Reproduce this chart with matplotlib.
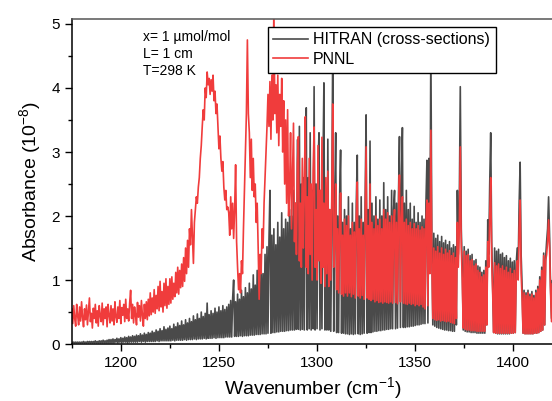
import numpy as np
import matplotlib
matplotlib.use("Agg")
import matplotlib.pyplot as plt

plt.rcParams['font.family'] = ['Liberation Sans', 'DejaVu Sans']
plt.rcParams['mathtext.fontset'] = 'custom'
plt.rcParams['mathtext.rm'] = 'Liberation Sans'
plt.rcParams['mathtext.it'] = 'Liberation Sans:italic'

wavenumber = 1175 + 0.5 * np.arange(500)

# HITRAN cross-sections (absorbance, 1e-8)
hitran = [
    0.03, 0.02, 0.03, 0.02, 0.03, 0.02, 0.03, 0.02, 0.03, 0.02, 0.03, 0.02, 0.04, 0.02, 0.03, 0.02, 0.04, 0.02, 0.04, 0.02,  # 1175
    0.04, 0.02, 0.04, 0.02, 0.05, 0.02, 0.04, 0.02, 0.05, 0.02, 0.05, 0.02, 0.06, 0.02, 0.05, 0.02, 0.06, 0.02, 0.07, 0.02,  # 1185
    0.07, 0.02, 0.08, 0.02, 0.07, 0.03, 0.09, 0.02, 0.08, 0.03, 0.10, 0.02, 0.09, 0.03, 0.11, 0.03, 0.10, 0.02, 0.12, 0.03,  # 1195
    0.11, 0.03, 0.13, 0.03, 0.12, 0.03, 0.14, 0.03, 0.13, 0.04, 0.16, 0.03, 0.14, 0.04, 0.17, 0.03, 0.15, 0.04, 0.18, 0.04,  # 1205
    0.17, 0.04, 0.20, 0.04, 0.18, 0.04, 0.22, 0.05, 0.20, 0.04, 0.24, 0.05, 0.21, 0.05, 0.27, 0.05, 0.23, 0.05, 0.25, 0.05,  # 1215
    0.28, 0.05, 0.24, 0.06, 0.31, 0.05, 0.27, 0.06, 0.33, 0.06, 0.29, 0.06, 0.36, 0.06, 0.30, 0.07, 0.38, 0.06, 0.33, 0.07,  # 1225
    0.40, 0.07, 0.35, 0.07, 0.44, 0.08, 0.38, 0.07, 0.47, 0.08, 0.40, 0.08, 0.50, 0.08, 0.43, 0.09, 0.48, 0.08, 0.64, 0.09,  # 1235
    0.46, 0.09, 0.52, 0.09, 0.48, 0.10, 0.56, 0.09, 0.50, 0.10, 0.58, 0.10, 0.52, 0.10, 0.60, 0.10, 0.54, 0.11, 0.58, 0.11,  # 1245
    0.62, 0.11, 0.68, 0.11, 0.72, 1.00, 0.12, 0.66, 0.12, 0.78, 0.12, 0.70, 0.13, 0.84, 0.12, 0.74, 0.13, 0.88, 0.13, 0.80,  # 1255
    0.13, 0.95, 0.14, 0.86, 0.14, 1.08, 0.14, 0.92, 0.15, 1.15, 0.15, 1.00, 0.15, 1.25, 0.16, 1.10, 0.16, 1.40, 0.16, 1.52,  # 1265
    0.17, 1.60, 2.40, 0.17, 1.70, 0.18, 1.80, 0.18, 1.55, 0.19, 1.90, 0.19, 1.67, 0.20, 2.05, 0.20, 1.80, 0.20, 1.95, 0.21,  # 1275
    1.90, 0.21, 2.10, 0.22, 2.00, 0.22, 2.40, 0.22, 2.20, 0.23, 3.19, 0.23, 3.40, 0.22, 2.50, 0.23, 2.60, 0.22, 2.30, 3.69,  # 1285
    0.22, 2.60, 0.24, 3.30, 0.22, 2.40, 0.24, 4.02, 0.22, 2.50, 0.24, 2.80, 3.30, 0.22, 2.40, 0.24, 2.70, 4.08, 0.22, 2.30,  # 1295
    0.22, 3.20, 0.22, 2.10, 0.20, 2.00, 4.70, 0.20, 2.20, 3.30, 0.18, 2.00, 0.18, 2.30, 3.03, 0.17, 1.90, 0.17, 2.10, 0.16,  # 1305
    2.00, 0.16, 2.30, 0.15, 1.80, 0.16, 2.20, 0.15, 1.90, 0.16, 2.20, 2.95, 0.16, 2.00, 0.15, 2.30, 0.16, 1.90, 0.17, 2.20,  # 1315
    3.58, 0.17, 2.10, 0.18, 3.17, 0.18, 2.20, 0.19, 2.00, 0.20, 2.30, 0.20, 1.95, 0.21, 2.25, 0.21, 2.00, 0.22, 2.52, 0.22,  # 1325
    2.10, 0.23, 2.30, 0.23, 2.00, 0.24, 2.40, 0.24, 2.10, 2.40, 0.24, 2.20, 0.25, 2.30, 3.24, 0.26, 2.50, 3.38, 0.26, 2.20,  # 1335
    0.26, 2.40, 0.27, 2.10, 0.27, 2.20, 0.28, 1.95, 0.28, 2.15, 0.29, 1.90, 0.30, 2.05, 0.30, 1.90, 0.31, 2.00, 0.32, 1.95,  # 1345
    0.32, 2.20, 2.87, 0.33, 2.90, 1.20, 4.70, 1.60, 0.30, 1.73, 0.28, 1.65, 0.26, 1.70, 0.25, 1.60, 0.24, 1.68, 0.23, 1.58,  # 1355
    0.22, 1.62, 0.22, 1.55, 0.21, 1.60, 0.21, 1.50, 0.20, 1.55, 0.20, 1.52, 0.30, 2.40, 1.40, 2.20, 4.02, 1.80, 1.20, 0.22,  # 1365
    1.52, 0.20, 1.45, 0.19, 1.48, 0.19, 1.38, 0.18, 1.40, 0.18, 1.30, 0.18, 1.32, 0.17, 1.22, 0.17, 1.20, 0.17, 1.12, 0.17,  # 1375
    1.15, 0.17, 1.30, 0.30, 1.94, 1.40, 2.50, 3.30, 1.60, 0.90, 0.18, 1.50, 0.17, 1.45, 0.16, 1.48, 0.16, 1.40, 0.16, 1.42,  # 1385
    0.16, 1.35, 0.16, 1.38, 0.16, 1.30, 0.16, 1.34, 0.17, 1.28, 0.17, 1.30, 0.18, 1.25, 1.50, 1.20, 2.20, 2.84, 1.40, 0.90,  # 1395
    0.17, 0.84, 0.16, 0.80, 0.16, 0.84, 0.16, 0.78, 0.16, 0.82, 0.16, 0.76, 0.17, 0.84, 0.17, 0.90, 0.18, 1.05, 0.20, 1.20,  # 1405
    0.22, 1.42, 0.30, 1.35, 1.60, 1.80, 2.30, 1.70, 0.90, 0.40, 1.00, 0.30, 0.90, 0.30, 0.85, 0.30, 0.80, 0.30, 0.80, 0.30,  # 1415
]

# PNNL spectrum (absorbance, 1e-8)
pnnl = [
    0.55, 0.32, 0.60, 0.40, 0.28, 0.62, 0.45, 0.30, 0.58, 0.36, 0.66, 0.42, 0.27, 0.55, 0.38, 0.61, 0.30, 0.50, 0.72, 0.35,  # 1175
    0.48, 0.25, 0.56, 0.40, 0.62, 0.33, 0.52, 0.28, 0.60, 0.44, 0.35, 0.64, 0.30, 0.55, 0.40, 0.58, 0.27, 0.62, 0.45, 0.33,  # 1185
    0.60, 0.36, 0.55, 0.30, 0.66, 0.42, 0.34, 0.58, 0.40, 0.68, 0.32, 0.57, 0.45, 0.62, 0.35, 0.70, 0.40, 0.55, 0.36, 0.64,  # 1195
    0.84, 0.40, 0.62, 0.33, 0.58, 0.45, 0.30, 0.65, 0.42, 0.60, 0.36, 0.68, 0.45, 0.28, 0.62, 0.40, 0.66, 0.38, 0.70, 0.44,  # 1205
    0.80, 0.46, 0.72, 0.50, 0.85, 0.48, 0.76, 0.55, 0.90, 0.52, 0.98, 0.58, 0.82, 0.50, 0.95, 0.60, 1.02, 0.56, 0.90, 0.62,  # 1215
    1.02, 0.64, 1.05, 0.70, 0.95, 0.74, 1.12, 0.80, 1.20, 0.78, 1.15, 0.88, 1.25, 0.90, 1.35, 0.98, 1.50, 1.10, 1.62, 1.20,  # 1225
    1.80, 1.55, 2.10, 1.70, 1.26, 1.90, 2.10, 2.30, 2.20, 2.45, 2.60, 2.90, 3.10, 3.40, 3.66, 3.50, 4.00, 3.85, 4.25, 4.05,  # 1235
    4.15, 3.90, 4.13, 3.95, 4.20, 3.80, 3.95, 3.60, 3.75, 3.40, 3.05, 3.25, 2.90, 2.70, 2.85, 2.45, 2.25, 2.40, 2.10, 2.14,  # 1245
    2.05, 1.70, 2.30, 1.80, 2.20, 1.65, 2.10, 2.80, 1.60, 1.20, 0.85, 1.10, 0.80, 1.30, 1.10, 1.80, 2.40, 3.00, 3.60, 4.75,  # 1255
    3.60, 3.30, 2.60, 3.20, 2.40, 2.90, 2.30, 2.50, 1.90, 2.20, 1.50, 0.70, 1.40, 1.10, 1.80, 1.50, 2.20, 2.60, 3.00, 3.40,  # 1265
    3.90, 3.40, 4.10, 3.20, 4.20, 3.50, 5.30, 3.60, 4.05, 3.30, 4.20, 3.10, 3.90, 3.40, 4.15, 3.00, 3.80, 2.50, 3.50, 2.20,  # 1275
    3.66, 2.00, 2.40, 3.30, 1.80, 2.60, 3.45, 1.60, 2.20, 1.40, 2.80, 3.24, 1.30, 2.20, 1.20, 2.90, 1.50, 2.40, 3.55, 1.20,  # 1285
    2.30, 1.10, 2.90, 1.40, 2.50, 1.00, 2.70, 3.39, 1.20, 2.10, 1.00, 3.10, 1.30, 2.40, 0.95, 3.23, 1.20, 2.20, 0.90, 2.60,  # 1295
    1.10, 2.70, 0.90, 2.10, 1.00, 2.30, 3.75, 1.20, 1.60, 2.50, 0.85, 1.80, 0.80, 1.90, 2.36, 0.78, 1.70, 0.75, 1.95, 0.80,  # 1305
    1.85, 0.75, 2.00, 0.80, 1.70, 0.74, 1.90, 0.78, 1.75, 0.72, 1.95, 2.53, 0.75, 1.80, 0.72, 1.95, 0.76, 1.70, 0.70, 1.90,  # 1315
    3.08, 0.72, 1.85, 0.70, 2.50, 0.68, 1.90, 0.70, 1.80, 0.66, 2.00, 0.68, 1.85, 0.65, 1.95, 0.66, 1.80, 0.64, 2.10, 0.66,  # 1325
    1.95, 0.65, 2.05, 0.64, 1.90, 0.66, 2.00, 0.64, 1.85, 2.10, 0.65, 1.90, 0.63, 2.00, 2.64, 0.66, 1.95, 2.30, 0.64, 1.90,  # 1335
    0.63, 1.95, 0.62, 1.85, 0.64, 1.90, 0.62, 1.80, 0.63, 1.88, 0.60, 1.80, 0.62, 1.85, 0.60, 1.78, 0.62, 1.83, 0.58, 1.80,  # 1345
    0.55, 1.90, 2.25, 0.60, 2.20, 1.10, 3.34, 1.30, 0.40, 1.50, 0.38, 1.45, 0.37, 1.52, 0.38, 1.42, 0.36, 1.50, 0.37, 1.40,  # 1355
    0.36, 1.48, 0.35, 1.42, 0.36, 1.46, 0.34, 1.38, 0.33, 1.42, 0.32, 1.35, 0.40, 1.90, 1.20, 1.80, 3.08, 1.50, 1.00, 0.25,  # 1365
    1.45, 0.23, 1.38, 0.22, 1.40, 0.22, 1.30, 0.21, 1.32, 0.21, 1.22, 0.21, 1.25, 0.20, 1.15, 0.20, 1.12, 0.20, 1.05, 0.20,  # 1375
    1.08, 0.20, 1.20, 0.30, 1.60, 1.20, 2.00, 2.60, 1.30, 0.80, 0.18, 1.27, 0.17, 1.22, 0.17, 1.25, 0.17, 1.18, 0.17, 1.22,  # 1385
    0.17, 1.15, 0.17, 1.20, 0.17, 1.12, 0.17, 1.18, 0.17, 1.10, 0.17, 1.15, 0.18, 1.10, 1.30, 1.00, 1.80, 2.25, 1.10, 0.70,  # 1395
    0.17, 0.80, 0.16, 0.76, 0.16, 0.80, 0.16, 0.74, 0.16, 0.78, 0.16, 0.72, 0.17, 0.80, 0.17, 0.86, 0.18, 1.00, 0.20, 1.15,  # 1405
    0.22, 1.38, 0.30, 1.30, 1.40, 1.60, 1.94, 1.50, 0.80, 0.35, 0.95, 0.30, 0.85, 0.30, 0.80, 0.30, 0.80, 0.30, 0.75, 0.30,  # 1415
]

x_ticks = [1200, 1250, 1300, 1350, 1400]
y_ticks = [0, 1, 2, 3, 4, 5]
conditions = ["x= 1 \u00b5mol/mol", "L= 1 cm", "T=298 K"]

fig = plt.figure(figsize=(5.52, 4.01), dpi=100)
ax = fig.add_axes([0.130, 0.142, 0.872, 0.811])

ax.plot(wavenumber, hitran, color='#4a4a4a', lw=1.2, label='HITRAN (cross-sections)')
ax.plot(wavenumber, pnnl, color='#f03c3c', lw=1.2, label='PNNL')

ax.set_xlim(1175.4, 1420.3)
ax.set_ylim(0, 5.08)
ax.set_xticks(x_ticks)
ax.set_xticks(np.arange(1175, 1425, 25), minor=True)
ax.set_yticks(y_ticks)
ax.set_yticks(np.arange(0, 5.1, 0.5), minor=True)
ax.tick_params(which='both', direction='out', labelsize=11, width=1.0)
ax.tick_params(which='major', length=5)
ax.tick_params(which='minor', length=3)
ax.tick_params(axis='x', which='both', top=False)
for s in ax.spines.values():
    s.set_linewidth(1.1)
ax.spines['top'].set_color('#555555')

ax.set_xlabel('Wavenumber (cm$^{-1}$)', fontsize=14, labelpad=4)
ax.set_ylabel('Absorbance (10$^{-8}$)', fontsize=14, labelpad=6)

for i, t in enumerate(conditions):
    ax.text(0.148, 0.945 - i * 0.053, t, transform=ax.transAxes,
            fontsize=10, va='center', ha='left')

leg = ax.legend(loc='upper left', bbox_to_anchor=(0.407, 0.976), fontsize=11.5,
                frameon=True, fancybox=False, framealpha=1.0, edgecolor='black',
                borderpad=0.35, handlelength=2.2, handletextpad=0.3,
                labelspacing=0.3, borderaxespad=0)
leg.get_frame().set_linewidth(1.0)

fig.savefig('out.png', dpi=100)
